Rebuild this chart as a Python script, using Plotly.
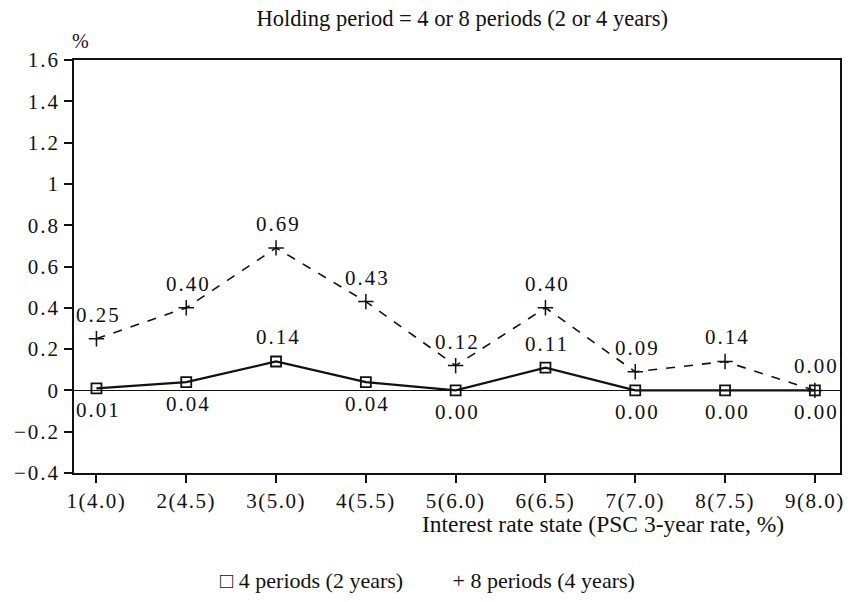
import plotly.graph_objects as go

# Interest rate states (PSC 3-year rate in brackets)
states = [1, 2, 3, 4, 5, 6, 7, 8, 9]
state_labels = ["1(4.0)", "2(4.5)", "3(5.0)", "4(5.5)", "5(6.0)",
                "6(6.5)", "7(7.0)", "8(7.5)", "9(8.0)"]

# Values (%) for the two holding periods
four_periods = [0.01, 0.04, 0.14, 0.04, 0.00, 0.11, 0.00, 0.00, 0.00]
eight_periods = [0.25, 0.40, 0.69, 0.43, 0.12, 0.40, 0.09, 0.14, 0.00]

# Which side of its point each value label goes on
four_label_side = ["below", "below", "above", "below", "below", "above", "below", "below", "below"]
eight_label_side = ["above"] * 9

y_ticks = [1.6, 1.4, 1.2, 1.0, 0.8, 0.6, 0.4, 0.2, 0.0, -0.2, -0.4]
y_tick_text = ["1.6", "1.4", "1.2", "1", "0.8", "0.6", "0.4", "0.2", "0", "\u22120.2", "\u22120.4"]

serif = "Liberation Serif, Times New Roman, serif"
ink = "#111111"


def spaced(s, px=2):
    """Typeset numerals with a little extra tracking."""
    return f'<span style="letter-spacing:{px}px">{s}</span>'


fig = go.Figure()

fig.add_trace(go.Scatter(
    x=states, y=eight_periods, mode="lines+markers", name="8 periods (4 years)",
    line=dict(color=ink, width=1.6, dash="dash"),
    marker=dict(symbol="cross-thin-open", size=11, line=dict(color=ink, width=1.5), color=ink),
    showlegend=False, cliponaxis=False,
))

fig.add_trace(go.Scatter(
    x=states, y=four_periods, mode="lines+markers", name="4 periods (2 years)",
    line=dict(color=ink, width=2.2),
    marker=dict(symbol="square-open", size=10, line=dict(color=ink, width=1.8), color=ink),
    showlegend=False, cliponaxis=False,
))

# Value labels, placed in data coordinates and nudged off their points
value_labels = []
for xs, ys, sides in ((states, eight_periods, eight_label_side),
                      (states, four_periods, four_label_side)):
    for xv, yv, side in zip(xs, ys, sides):
        value_labels.append(dict(
            x=xv, y=yv, xref="x", yref="y", text=spaced(f"{yv:.2f}"),
            showarrow=False, xanchor="center", yanchor="middle",
            xshift=2, yshift=24 if side == "above" else -22,
            font=dict(family=serif, size=21, color=ink),
        ))

fig.update_layout(
    width=856, height=602,
    margin=dict(l=74, r=11, t=60, b=129),
    paper_bgcolor="white", plot_bgcolor="white",
    font=dict(family=serif, color=ink),
    title=dict(text="Holding period = 4 or 8 periods (2 or 4 years)",
               x=0.54, xanchor="center", y=0.97, yanchor="middle",
               font=dict(family=serif, size=22.5, color=ink)),
    xaxis=dict(
        range=[0.75, 9.28], tickmode="array", tickvals=states,
        ticktext=[spaced(t, 1.5) for t in state_labels],
        ticks="outside", ticklen=8, tickcolor=ink, tickwidth=1.5,
        showline=True, linecolor=ink, linewidth=1.5, mirror=True,
        showgrid=False, zeroline=False,
        tickfont=dict(family=serif, size=21, color=ink),
    ),
    yaxis=dict(
        range=[-0.4, 1.6], tickmode="array", tickvals=y_ticks,
        ticktext=[spaced(t) for t in y_tick_text],
        ticks="outside", ticklen=8, tickcolor=ink, tickwidth=1.5,
        showline=True, linecolor=ink, linewidth=1.5, mirror=True,
        showgrid=False, zeroline=True, zerolinecolor=ink, zerolinewidth=1.3,
        tickfont=dict(family=serif, size=21, color=ink),
    ),
    annotations=value_labels + [
        dict(text="%", xref="paper", yref="paper", x=0.0, y=1.0, xanchor="left",
             yanchor="bottom", yshift=6, xshift=-4, showarrow=False,
             font=dict(family=serif, size=20, color=ink)),
        dict(text="Interest rate state (PSC 3-year rate, %)", xref="paper", yref="paper",
             x=0.929, y=0, xanchor="right", yanchor="middle", yshift=-51,
             showarrow=False, font=dict(family=serif, size=23.5, color=ink)),
        dict(text="\u25a1 4 periods (2 years)" + "&nbsp;" * 9 + "+ 8 periods (4 years)",
             xref="paper", yref="paper", x=0.462, y=0, xanchor="center",
             yanchor="middle", yshift=-107, showarrow=False,
             font=dict(family=serif, size=22, color=ink)),
    ],
)

fig.write_html("out.html")
